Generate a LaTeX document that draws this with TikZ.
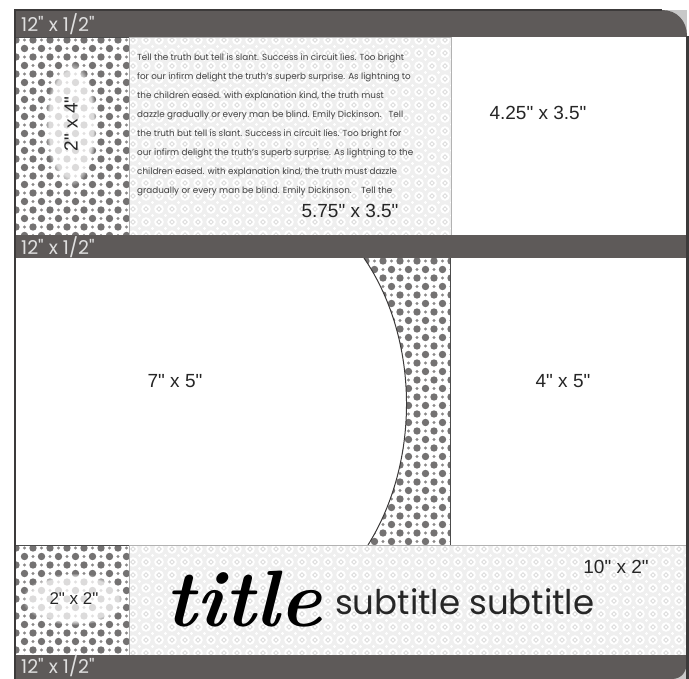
\documentclass[tikz,border=0pt]{standalone}
\usepackage{fontspec}
\usetikzlibrary{fadings}
\newfontfamily\gothfont{Poppins}
\newfontfamily\arialfont{Liberation Sans}
\definecolor{barcol}{HTML}{5E5A59}
\definecolor{edgecol}{HTML}{3C3A3A}
\definecolor{dotcol}{HTML}{747272}
\definecolor{lacebg}{HTML}{EFEFEF}
\definecolor{lacecol}{HTML}{DCDCDC}
\definecolor{cornercol}{HTML}{C8C8C8}
\tikzset{
  bar/.style={fill=barcol},
  barlbl/.style={font=\gothfont\fontsize{19}{19}\selectfont,text=gray!25,anchor=base west,inner sep=0pt},
  dimlbl/.style={font=\arialfont\fontsize{19}{19}\selectfont,text=black!85,inner sep=0pt},
  panel/.style={draw=gray!60!black,line width=0.7pt},
  bigdot/.style={fill=dotcol},
  smalldot/.style={fill=dotcol!85},
  lace/.style={draw=lacecol,line width=0.8pt},
  halo/.style={fill=white,fill opacity=0.75,path fading=circle with fuzzy edge 15 percent}
}
% polka dots: origin x, origin y, columns, rows
\newcommand{\polkadots}[4]{%
  \foreach \r in {0,...,#4}{%
    \foreach \c in {0,...,#3}{%
      \pgfmathsetmacro{\px}{#1+17*\c+8.5*mod(\r,2)}%
      \pgfmathsetmacro{\py}{#2+8.5*\r}%
      \fill[bigdot] (\px,\py) circle[radius=3.7];
      \fill[smalldot] (\px+8.5,\py) circle[radius=1.6];
    }}}
% lace pattern: origin x, origin y, columns, rows
\newcommand{\lacefill}[4]{%
  \foreach \r in {0,...,#4}{%
    \foreach \c in {0,...,#3}{%
      \pgfmathsetmacro{\px}{#1+13*\c}%
      \pgfmathsetmacro{\py}{#2+13*\r}%
      \fill[white] (\px,\py) circle[radius=4.8];
      \draw[lace] (\px,\py-2.2) -- (\px+2.2,\py) -- (\px,\py+2.2) -- (\px-2.2,\py) -- cycle;
      \fill[white] (\px+6.5,\py+4.8) -- (\px+8.2,\py+6.5) -- (\px+6.5,\py+8.2) -- (\px+4.8,\py+6.5) -- cycle;
    }}}

\begin{document}
\begin{tikzpicture}[x=1pt,y=-1pt]
  \useasboundingbox (0,0) rectangle (689,679);
  \fill[white] (0,0) rectangle (689,679);

  % Top row: dotted strip
  \begin{scope}
    \clip (14,37) rectangle (129,235);
    \polkadots{16}{40}{7}{23}
    \fill[halo] (71,124) ellipse[x radius=26,y radius=62];
  \end{scope}
  \draw[panel] (14,37) rectangle (129,235);
  \node[dimlbl,rotate=90] (dimStrip) at (71,124) {2" x 4"};

  % Top row: journaling box
  \begin{scope}
    \clip (129,37) rectangle (451,235);
    \fill[lacebg] (129,37) rectangle (451,235);
    \lacefill{133}{40}{25}{15}
  \end{scope}
  \draw[panel,draw=gray!60] (129,37) rectangle (451,235);
  \node[font=\gothfont\fontsize{8.8}{19}\selectfont,text=black!75,align=left,anchor=north west,inner sep=0pt] (poem) at (137,54) {%
    Tell the truth but tell is slant. Success in circuit lies. Too bright\\
    for our infirm delight the truth’s superb surprise. As lightning to\\
    the children eased. with explanation kind, the truth must\\
    dazzle gradually or every man be blind. Emily Dickinson.\ \ \ Tell\\
    the truth but tell is slant. Success in circuit lies. Too bright for\\
    our infirm delight the truth’s superb surprise. As lightning to the\\
    children eased. with explanation kind, the truth must dazzle\\
    gradually or every man be blind. Emily Dickinson.\ \ \ \ Tell the};
  \node[dimlbl] (dimPoem) at (350,211) {5.75" x 3.5"};

  % Top row: photo
  \node[dimlbl] (dimPhoto) at (538,113) {4.25" x 3.5"};

  % Middle row: dotted crescent
  \begin{scope}
    \clip (364,258) .. controls (420,340) and (420,462) .. (368,545) -- (450,545) -- (450,258) -- cycle;
    \polkadots{366}{261}{6}{34}
  \end{scope}
  \draw[edgecol,line width=1pt] (364,258) .. controls (420,340) and (420,462) .. (368,545);
  \draw[panel] (450,258) -- (450,545);
  \node[dimlbl] (dimMain) at (175,381) {7" x 5"};
  \node[dimlbl] (dimSide) at (563,381) {4" x 5"};

  % Bottom row: dotted square
  \begin{scope}
    \clip (14,545) rectangle (129,655);
    \polkadots{16}{548}{7}{13}
    \fill[halo] (74,599) ellipse[x radius=52,y radius=26];
  \end{scope}
  \draw[panel] (14,545) rectangle (129,655);
  \node[dimlbl,font=\arialfont\fontsize{17}{17}\selectfont] (dimSquare) at (74,599) {2" x 2"};

  % Bottom row: title strip
  \begin{scope}
    \clip (129,545) rectangle (687,655);
    \fill[lacebg] (129,545) rectangle (687,655);
    \lacefill{133}{549}{43}{8}
  \end{scope}
  \draw[panel,draw=gray!60] (129,545) rectangle (687,655);
  \node[font=\fontsize{80}{80}\selectfont\itshape\bfseries,anchor=base west,inner sep=0pt] (title) at (165,626) {title};
  \node[font=\gothfont\fontsize{34}{34}\selectfont,text=black!85,anchor=base west,inner sep=0pt] (subtitle) at (335,614) {subtitle subtitle};
  \node[dimlbl] (dimTitle) at (616,567) {10" x 2"};

  % Bars
  \fill[cornercol] (662,10) rectangle (687,36);
  \fill[bar] (14,10) -- (662,10) .. controls (677,10) and (687,21) .. (687,36) -- (687,37) -- (14,37) -- cycle;
  \node[barlbl] (barTop) at (21,32) {12" x 1/2"};
  \fill[bar] (14,235) rectangle (687,258);
  \node[barlbl] (barMid) at (21,255) {12" x 1/2"};
  \fill[cornercol] (668,660) rectangle (687,679);
  \fill[bar] (14,655) -- (687,655) -- (687,661) .. controls (687,671) and (682,679) .. (672,679) -- (14,679) -- cycle;
  \node[barlbl] (barBot) at (21,673) {12" x 1/2"};

  % Frame
  \draw[edgecol,line width=2pt] (15,679) -- (15,10) -- (662,10);
  \draw[edgecol,line width=2.5pt] (687.5,36) -- (687.5,679);
\end{tikzpicture}
\end{document}
